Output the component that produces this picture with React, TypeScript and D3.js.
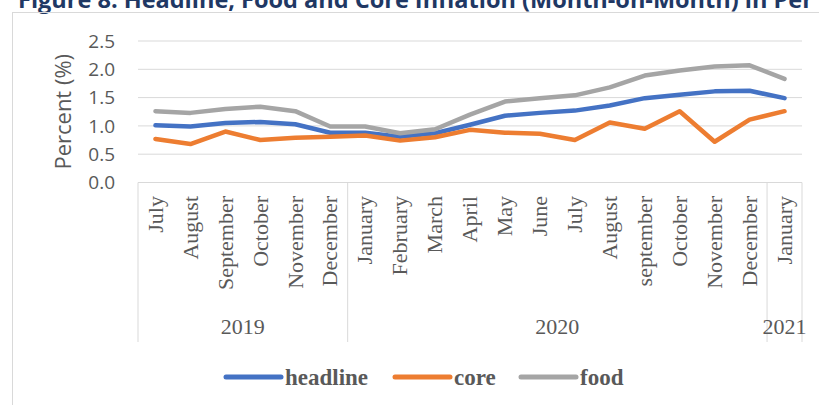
import * as d3 from 'd3';

const months = [
  'July', 'August', 'September', 'October', 'November', 'December',
  'January', 'February', 'March', 'April', 'May', 'June', 'July', 'August',
  'september', 'October', 'November', 'December', 'January',
];
const years = [
  { label: '2019', count: 6 },
  { label: '2020', count: 12 },
  { label: '2021', count: 1 },
];
const headline = [1.01, 0.99, 1.05, 1.07, 1.03, 0.88, 0.88, 0.81, 0.87, 1.02, 1.18, 1.23, 1.27, 1.36, 1.49, 1.55, 1.61, 1.62, 1.49];
const core = [0.77, 0.68, 0.9, 0.75, 0.79, 0.81, 0.83, 0.74, 0.8, 0.93, 0.88, 0.86, 0.75, 1.06, 0.95, 1.26, 0.72, 1.11, 1.26];
const food = [1.26, 1.23, 1.3, 1.34, 1.26, 0.99, 0.99, 0.87, 0.94, 1.2, 1.43, 1.49, 1.54, 1.68, 1.89, 1.98, 2.05, 2.07, 1.83];
const yTicks = [0, 0.5, 1, 1.5, 2, 2.5];

const series = [
  { name: 'headline', values: headline, color: '#4472C4' },
  { name: 'core', values: core, color: '#ED7D31' },
  { name: 'food', values: food, color: '#A5A5A5' },
];

const W = 819, H = 405;
const left = 138, right = 802, top = 41, bottom = 182.5;
const grey = '#595959';
const serif = '"Liberation Serif", "DejaVu Serif", serif';
const sans = '"Open Sans", "Noto Sans", sans-serif';

export default function App() {
  const idx = months.map((_, i) => String(i));
  const x = d3.scaleBand<string>().domain(idx).range([left, right]).padding(0);
  const y = d3.scaleLinear().domain([0, 2.5]).range([bottom, top]);
  const cx = (i: number) => (x(String(i)) as number) + x.bandwidth() / 2;
  const line = d3.line<number>().x((_, i) => cx(i)).y(d => y(d));

  // group boundaries for the two-level category axis
  let acc = 0;
  const groups = years.map(g => {
    const start = acc;
    acc += g.count;
    return { ...g, x0: x(String(start)) as number, x1: start + g.count >= months.length ? right : (x(String(start + g.count)) as number) };
  });

  const legendItems = [
    { s: series[0], x: 226 },
    { s: series[1], x: 395 },
    { s: series[2], x: 521 },
  ];

  return (
    <div style={{ position: 'fixed', left: 0, top: 0 }}>
      <svg width={W} height={H} style={{ display: 'block', background: '#fff' }}>
        <text x={18} y={8} fontFamily={sans} fontWeight={700} fontSize={23.5} fill="#1F3864">
          Figure 8: Headline, Food and Core Inflation (Month-on-Month) in Per cent
        </text>
        <rect x={12.5} y={12.5} width={W} height={H} fill="none" stroke="#D9D9D9" />

        {yTicks.map(t => (
          <g key={t}>
            {t > 0 && <line x1={left} x2={right} y1={y(t)} y2={y(t)} stroke="#D9D9D9" strokeWidth={1} />}
            <text x={115} y={y(t)} dy="0.36em" textAnchor="end" fontFamily={sans} fontSize={19} fill={grey}>
              {t.toFixed(1)}
            </text>
          </g>
        ))}
        <text transform={`translate(63,${(top + bottom) / 2}) rotate(-90)`} textAnchor="middle" dy="0.35em"
          fontFamily={sans} fontSize={22} fill={grey}>Percent (%)</text>

        <line x1={left} x2={right} y1={bottom} y2={bottom} stroke="#D9D9D9" />
        {groups.map((g, i) => (
          <g key={g.label}>
            {i === 0 && <line x1={g.x0} x2={g.x0} y1={bottom} y2={342} stroke="#D9D9D9" />}
            <line x1={g.x1} x2={g.x1} y1={bottom} y2={342} stroke="#D9D9D9" />
            <text x={(g.x0 + g.x1) / 2} y={334} textAnchor="middle" fontFamily={serif} fontSize={22} fill={grey}>
              {g.label}
            </text>
          </g>
        ))}
        {months.map((m, i) => (
          <text key={i} transform={`translate(${cx(i)},196) rotate(-90)`} textAnchor="end" dy="0.33em"
            fontFamily={serif} fontSize={22} fill={grey}>{m}</text>
        ))}

        {series.map(s => (
          <path key={s.name} d={line(s.values) || ''} fill="none" stroke={s.color} strokeWidth={4.5}
            strokeLinejoin="round" strokeLinecap="round" />
        ))}

        {legendItems.map(({ s, x: lx }) => (
          <g key={s.name}>
            <line x1={lx} x2={lx + 55} y1={377} y2={377} stroke={s.color} strokeWidth={5} strokeLinecap="round" />
            <text x={lx + 59} y={377} dy="0.33em" fontFamily={serif} fontWeight={700} fontSize={23} fill={grey}>
              {s.name}
            </text>
          </g>
        ))}
      </svg>
    </div>
  );
}
